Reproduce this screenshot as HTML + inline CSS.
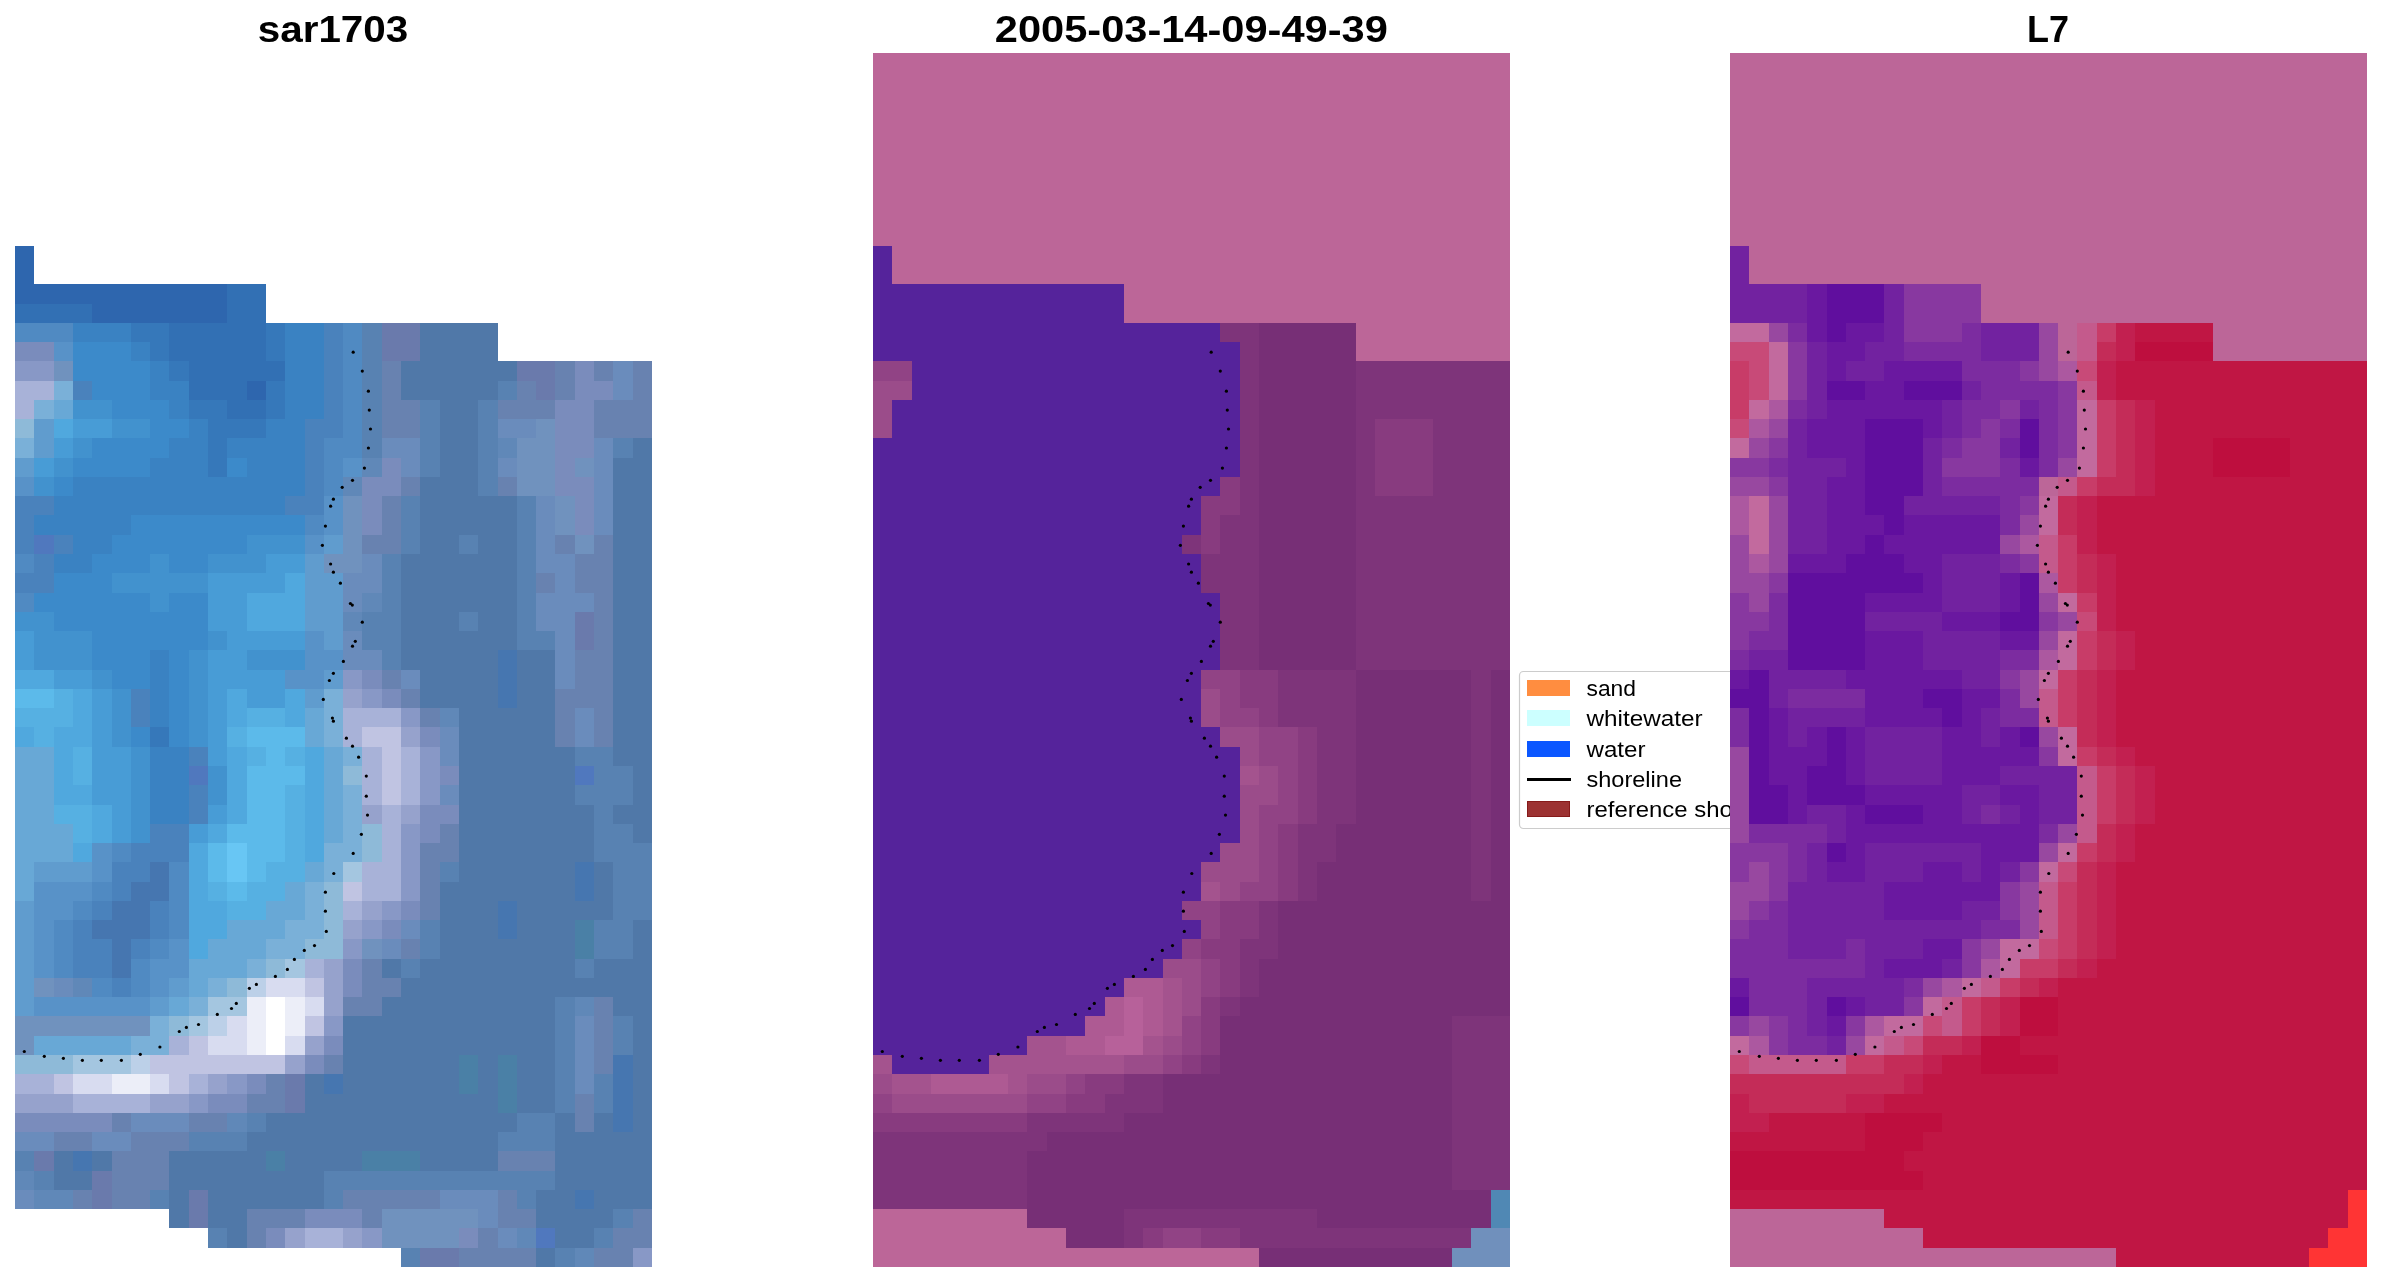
<!DOCTYPE html>
<html><head><meta charset="utf-8"><title>sar1703</title>
<style>
html,body{margin:0;padding:0;background:#fff;}
body{width:2381px;height:1283px;overflow:hidden;}
svg{display:block;}
.tt{font-family:"Liberation Sans",sans-serif;font-weight:bold;font-size:36px;fill:#000;}
.lg{font-family:"Liberation Sans",sans-serif;font-size:21.5px;fill:#000;}
</style></head>
<body>
<svg width="2381" height="1283" viewBox="0 0 2381 1283" shape-rendering="crispEdges">
<defs><filter id="ga" x="-5%" y="-30%" width="110%" height="160%"><feOffset dx="0" dy="0"/></filter></defs>
<rect width="2381" height="1283" fill="#fff"/>
<path fill="#2E66AE" d="M15 246h19v19h-19zM15 265h19v19h-19zM15 284h212v20h-212zM92 304h135v19h-135zM247 381h19v19h-19z"/>
<path fill="#3270B4" d="M227 284h39v20h-39zM15 304h77v19h-77zM227 304h39v19h-39zM169 323h97v19h-97zM169 342h97v19h-97zM189 361h96v20h-96zM189 381h58v19h-58zM227 400h39v19h-39z"/>
<path fill="#508AC2" d="M15 323h58v19h-58zM343 323h19v19h-19zM343 342h19v19h-19zM343 361h19v20h-19zM343 381h19v19h-19zM343 400h19v19h-19zM343 419h19v19h-19zM324 438h38v20h-38zM324 458h19v19h-19zM324 477h19v19h-19zM305 515h19v20h-19zM15 554h19v19h-19zM15 593h19v19h-19zM112 843h19v19h-19zM169 862h20v20h-20zM92 882h20v19h-20zM169 882h20v19h-20zM73 901h19v19h-19zM169 901h20v19h-20zM54 920h19v19h-19zM169 920h20v19h-20zM54 939h19v20h-19zM150 939h19v20h-19zM54 959h19v19h-19zM131 959h19v19h-19zM92 978h20v19h-20zM131 978h19v19h-19z"/>
<path fill="#3A82C2" d="M73 323h58v19h-58zM285 323h39v19h-39zM131 342h19v19h-19zM285 342h39v19h-39zM150 361h19v20h-19zM285 361h39v20h-39zM150 381h39v19h-39zM285 381h39v19h-39zM169 400h20v19h-20zM285 400h39v19h-39zM189 419h19v19h-19zM266 419h39v19h-39zM169 438h39v20h-39zM227 438h78v20h-78zM150 458h58v19h-58zM247 458h58v19h-58zM73 477h232v19h-232zM54 496h231v19h-231zM34 515h97v20h-97zM73 535h39v19h-39zM54 554h38v19h-38zM150 650h19v20h-19zM150 670h19v19h-19zM150 689h19v19h-19zM150 708h19v19h-19zM150 747h39v19h-39zM150 766h39v19h-39zM150 785h39v20h-39zM150 805h39v19h-39z"/>
<path fill="#3678BA" d="M131 323h38v19h-38zM266 323h19v19h-19zM150 342h19v19h-19zM266 342h19v19h-19zM169 361h20v20h-20zM266 381h19v19h-19zM189 400h38v19h-38zM266 400h19v19h-19zM208 419h58v19h-58zM208 438h19v20h-19zM208 458h19v19h-19zM150 727h19v20h-19z"/>
<path fill="#4A82BC" d="M324 323h19v19h-19zM324 342h19v19h-19zM324 361h19v20h-19zM73 381h19v19h-19zM324 381h19v19h-19zM324 400h19v19h-19zM305 419h38v19h-38zM305 438h19v20h-19zM305 458h19v19h-19zM305 477h19v19h-19zM15 496h39v19h-39zM285 496h39v19h-39zM15 515h19v20h-19zM15 535h19v19h-19zM54 535h19v19h-19zM34 554h20v19h-20zM15 573h39v20h-39zM131 689h19v19h-19zM131 708h19v19h-19zM189 747h19v19h-19zM189 785h19v20h-19zM189 805h19v19h-19zM150 824h39v19h-39zM131 843h58v19h-58zM112 862h38v20h-38zM112 882h19v19h-19zM92 901h20v19h-20zM150 901h19v19h-19zM73 920h19v19h-19zM150 920h19v19h-19zM73 939h39v20h-39zM131 939h19v20h-19zM73 959h39v19h-39zM112 978h19v19h-19z"/>
<path fill="#5882B2" d="M362 323h20v19h-20zM362 342h20v19h-20zM362 361h20v20h-20zM362 381h20v19h-20zM498 381h19v19h-19zM362 400h20v19h-20zM420 400h20v19h-20zM478 400h20v19h-20zM362 419h20v19h-20zM420 419h20v19h-20zM478 419h20v19h-20zM362 438h20v20h-20zM420 438h20v20h-20zM478 438h20v20h-20zM613 438h20v20h-20zM420 458h20v19h-20zM478 458h20v19h-20zM478 477h20v19h-20zM401 496h19v19h-19zM517 496h19v19h-19zM401 515h19v20h-19zM517 515h19v20h-19zM401 535h19v19h-19zM459 535h19v19h-19zM517 535h19v19h-19zM382 554h19v19h-19zM517 554h19v19h-19zM382 573h19v20h-19zM517 573h19v20h-19zM382 593h19v19h-19zM517 593h19v19h-19zM362 612h39v19h-39zM459 612h19v19h-19zM517 612h19v19h-19zM362 631h39v19h-39zM517 631h38v19h-38zM382 650h19v20h-19zM575 747h38v19h-38zM594 766h39v19h-39zM575 785h58v20h-58zM594 805h19v19h-19zM594 824h39v19h-39zM594 843h58v19h-58zM440 862h19v20h-19zM613 862h39v20h-39zM613 882h39v19h-39zM613 901h39v19h-39zM420 920h20v19h-20zM594 920h39v19h-39zM420 939h20v20h-20zM594 939h39v20h-39zM401 959h19v19h-19zM575 959h19v19h-19zM555 997h20v19h-20zM555 1016h20v20h-20zM613 1016h20v20h-20zM555 1036h20v19h-20zM613 1036h20v19h-20zM555 1055h20v19h-20zM555 1074h20v20h-20zM594 1074h19v20h-19zM555 1094h20v19h-20zM594 1094h19v19h-19zM247 1113h19v19h-19zM517 1113h38v19h-38zM189 1132h58v19h-58zM498 1132h57v19h-57zM15 1151h19v20h-19zM34 1171h20v19h-20zM324 1171h231v19h-231zM150 1190h19v19h-19zM324 1190h19v19h-19zM517 1190h19v19h-19zM613 1209h20v19h-20zM208 1228h19v20h-19zM594 1228h19v20h-19zM401 1248h19v19h-19zM555 1248h20v19h-20z"/>
<path fill="#6A7AAC" d="M382 323h38v19h-38zM382 342h38v19h-38zM517 361h38v20h-38zM536 381h19v19h-19zM575 612h19v19h-19zM575 631h19v19h-19zM285 1074h20v20h-20zM285 1094h20v19h-20zM34 1151h20v20h-20zM92 1171h20v19h-20zM92 1190h20v19h-20zM189 1190h19v19h-19zM189 1209h19v19h-19zM420 1248h39v19h-39z"/>
<path fill="#5078A8" d="M420 323h78v19h-78zM420 342h78v19h-78zM401 361h116v20h-116zM401 381h97v19h-97zM440 400h38v19h-38zM440 419h38v19h-38zM440 438h38v20h-38zM633 438h19v20h-19zM440 458h38v19h-38zM613 458h39v19h-39zM420 477h58v19h-58zM613 477h39v19h-39zM420 496h97v19h-97zM613 496h39v19h-39zM420 515h97v20h-97zM613 515h39v20h-39zM420 535h39v19h-39zM478 535h39v19h-39zM613 535h39v19h-39zM401 554h116v19h-116zM613 554h39v19h-39zM401 573h116v20h-116zM613 573h39v20h-39zM401 593h116v19h-116zM613 593h39v19h-39zM401 612h58v19h-58zM478 612h39v19h-39zM613 612h39v19h-39zM401 631h116v19h-116zM613 631h39v19h-39zM401 650h97v20h-97zM517 650h38v20h-38zM613 650h39v20h-39zM420 670h78v19h-78zM517 670h38v19h-38zM613 670h39v19h-39zM420 689h78v19h-78zM517 689h38v19h-38zM613 689h39v19h-39zM459 708h96v19h-96zM613 708h39v19h-39zM459 727h96v20h-96zM613 727h39v20h-39zM459 747h116v19h-116zM613 747h39v19h-39zM459 766h116v19h-116zM633 766h19v19h-19zM459 785h116v20h-116zM633 785h19v20h-19zM459 805h135v19h-135zM613 805h39v19h-39zM459 824h135v19h-135zM633 824h19v19h-19zM459 843h135v19h-135zM459 862h116v20h-116zM594 862h19v20h-19zM440 882h135v19h-135zM594 882h19v19h-19zM440 901h58v19h-58zM517 901h96v19h-96zM440 920h58v19h-58zM517 920h58v19h-58zM633 920h19v19h-19zM440 939h135v20h-135zM633 939h19v20h-19zM382 959h19v19h-19zM420 959h155v19h-155zM594 959h58v19h-58zM401 978h251v19h-251zM382 997h173v19h-173zM613 997h39v19h-39zM343 1016h212v20h-212zM633 1016h19v20h-19zM343 1036h212v19h-212zM633 1036h19v19h-19zM343 1055h116v19h-116zM478 1055h20v19h-20zM517 1055h38v19h-38zM633 1055h19v19h-19zM305 1074h19v20h-19zM343 1074h116v20h-116zM478 1074h20v20h-20zM517 1074h38v20h-38zM633 1074h19v20h-19zM305 1094h193v19h-193zM517 1094h38v19h-38zM633 1094h19v19h-19zM266 1113h251v19h-251zM555 1113h20v19h-20zM594 1113h19v19h-19zM633 1113h19v19h-19zM247 1132h251v19h-251zM555 1132h97v19h-97zM54 1151h19v20h-19zM92 1151h20v20h-20zM169 1151h97v20h-97zM285 1151h77v20h-77zM420 1151h78v20h-78zM555 1151h97v20h-97zM54 1171h38v19h-38zM169 1171h155v19h-155zM555 1171h97v19h-97zM169 1190h20v19h-20zM208 1190h116v19h-116zM536 1190h39v19h-39zM594 1190h58v19h-58zM169 1209h20v19h-20zM208 1209h39v19h-39zM536 1209h77v19h-77zM227 1228h20v20h-20zM555 1228h39v20h-39zM536 1248h19v19h-19z"/>
<path fill="#7A8CBC" d="M15 342h39v19h-39zM575 361h19v20h-19zM575 381h38v19h-38zM555 400h39v19h-39zM555 419h39v19h-39zM555 438h39v20h-39zM382 458h19v19h-19zM555 458h20v19h-20zM362 477h39v19h-39zM555 477h39v19h-39zM362 496h20v19h-20zM575 496h19v19h-19zM362 515h20v20h-20zM575 515h19v20h-19zM362 670h20v19h-20zM382 689h19v19h-19zM420 727h20v20h-20zM440 766h19v19h-19zM420 805h39v19h-39zM420 824h20v19h-20zM401 901h19v19h-19zM382 920h19v19h-19zM343 959h19v19h-19zM343 978h19v19h-19zM324 1036h19v19h-19zM305 1055h19v19h-19zM247 1074h19v20h-19zM208 1094h39v19h-39zM15 1113h97v19h-97zM305 1209h57v19h-57zM266 1228h19v20h-19zM459 1228h19v20h-19z"/>
<path fill="#5892C8" d="M54 342h19v19h-19zM343 458h19v19h-19zM15 477h19v19h-19zM324 496h19v19h-19zM324 515h19v20h-19zM305 535h19v19h-19zM305 631h19v19h-19zM305 650h38v20h-38zM285 670h39v19h-39zM92 843h20v19h-20zM92 862h20v20h-20zM34 882h58v19h-58zM34 901h39v19h-39zM34 920h20v19h-20zM34 939h20v20h-20zM169 939h20v20h-20zM34 959h20v19h-20zM150 959h39v19h-39zM150 978h19v19h-19zM34 997h116v19h-116z"/>
<path fill="#3C8ACA" d="M73 342h58v19h-58zM73 361h77v20h-77zM92 381h58v19h-58zM112 400h57v19h-57zM150 419h39v19h-39zM92 438h77v20h-77zM73 458h77v19h-77zM227 458h20v19h-20zM54 477h19v19h-19zM131 515h174v20h-174zM112 535h135v19h-135zM92 554h58v19h-58zM169 554h39v19h-39zM54 573h58v20h-58zM34 593h116v19h-116zM169 593h39v19h-39zM54 612h154v19h-154zM92 631h116v19h-116zM92 650h58v20h-58zM169 650h20v20h-20zM112 670h38v19h-38zM169 670h20v19h-20zM169 689h20v19h-20zM169 708h20v19h-20zM131 727h19v20h-19zM169 727h20v20h-20z"/>
<path fill="#8898C6" d="M15 361h39v20h-39zM343 670h19v19h-19zM362 689h20v19h-20zM401 708h19v19h-19zM420 747h20v19h-20zM420 766h20v19h-20zM420 785h20v20h-20zM401 824h19v19h-19zM401 843h19v19h-19zM401 862h19v20h-19zM401 882h19v19h-19zM382 901h19v19h-19zM362 920h20v19h-20zM343 939h19v20h-19zM324 1016h19v20h-19zM227 1074h20v20h-20zM189 1094h19v19h-19zM362 1228h20v20h-20zM633 1248h19v19h-19z"/>
<path fill="#7092BE" d="M54 361h19v20h-19zM536 419h19v19h-19zM517 438h38v20h-38zM517 458h38v19h-38zM575 458h19v19h-19zM517 477h38v19h-38zM343 496h19v19h-19zM555 496h20v19h-20zM343 515h19v20h-19zM555 515h20v20h-20zM343 535h19v19h-19zM575 535h19v19h-19zM324 554h38v19h-38zM362 939h20v20h-20zM34 978h20v19h-20zM15 1016h135v20h-135zM15 1036h19v19h-19zM382 1209h96v19h-96zM382 1228h77v20h-77z"/>
<path fill="#6882B0" d="M382 361h19v20h-19zM555 361h20v20h-20zM594 361h19v20h-19zM633 361h19v20h-19zM382 381h19v19h-19zM517 381h19v19h-19zM555 381h20v19h-20zM633 381h19v19h-19zM382 400h38v19h-38zM498 400h57v19h-57zM594 400h58v19h-58zM382 419h38v19h-38zM594 419h58v19h-58zM401 477h19v19h-19zM498 477h19v19h-19zM382 496h19v19h-19zM382 515h19v20h-19zM362 535h39v19h-39zM555 535h20v19h-20zM594 535h19v19h-19zM575 554h38v19h-38zM536 573h19v20h-19zM575 573h38v20h-38zM594 593h19v19h-19zM594 612h19v19h-19zM594 631h19v19h-19zM575 650h38v20h-38zM382 670h19v19h-19zM575 670h38v19h-38zM401 689h19v19h-19zM555 689h58v19h-58zM420 708h20v19h-20zM555 708h20v19h-20zM594 708h19v19h-19zM555 727h20v20h-20zM594 727h19v20h-19zM440 824h19v19h-19zM420 843h39v19h-39zM420 862h20v20h-20zM420 882h20v19h-20zM420 901h20v19h-20zM401 939h19v20h-19zM362 959h20v19h-20zM362 978h39v19h-39zM343 997h39v19h-39zM594 997h19v19h-19zM594 1016h19v20h-19zM594 1036h19v19h-19zM324 1055h19v19h-19zM594 1055h19v19h-19zM266 1074h19v20h-19zM247 1094h38v19h-38zM575 1094h19v19h-19zM112 1113h19v19h-19zM189 1113h38v19h-38zM575 1113h19v19h-19zM54 1132h38v19h-38zM131 1132h58v19h-58zM112 1151h57v20h-57zM498 1151h57v20h-57zM112 1171h57v19h-57zM73 1190h19v19h-19zM112 1190h38v19h-38zM343 1190h97v19h-97zM498 1190h19v19h-19zM247 1209h58v19h-58zM362 1209h20v19h-20zM498 1209h38v19h-38zM633 1209h19v19h-19zM247 1228h19v20h-19zM478 1228h20v20h-20zM613 1228h39v20h-39zM459 1248h77v19h-77zM594 1248h39v19h-39z"/>
<path fill="#6A8CBC" d="M613 361h20v20h-20zM613 381h20v19h-20zM498 419h38v19h-38zM382 438h38v20h-38zM594 438h19v20h-19zM401 458h19v19h-19zM498 458h19v19h-19zM594 458h19v19h-19zM594 477h19v19h-19zM536 496h19v19h-19zM594 496h19v19h-19zM536 515h19v20h-19zM594 515h19v20h-19zM536 535h19v19h-19zM362 554h20v19h-20zM536 554h39v19h-39zM343 573h39v20h-39zM555 573h20v20h-20zM343 593h19v19h-19zM536 593h58v19h-58zM536 612h39v19h-39zM343 631h19v19h-19zM555 631h20v19h-20zM343 650h39v20h-39zM555 650h20v20h-20zM401 670h19v19h-19zM555 670h20v19h-20zM575 708h19v19h-19zM440 727h19v20h-19zM575 727h19v20h-19zM440 747h19v19h-19zM440 785h19v20h-19zM401 920h19v19h-19zM382 939h19v20h-19zM54 978h19v19h-19zM575 1016h19v20h-19zM575 1036h19v19h-19zM575 1055h19v19h-19zM575 1074h19v20h-19zM131 1113h58v19h-58zM15 1132h39v19h-39zM92 1132h39v19h-39zM15 1190h19v19h-19zM440 1190h58v19h-58zM478 1209h20v19h-20zM498 1228h19v20h-19z"/>
<path fill="#A8B2D8" d="M15 381h39v19h-39zM15 400h19v19h-19zM343 708h58v19h-58zM343 727h19v20h-19zM362 747h20v19h-20zM401 747h19v19h-19zM362 766h20v19h-20zM401 766h19v19h-19zM362 785h20v20h-20zM401 785h19v20h-19zM382 805h19v19h-19zM382 824h19v19h-19zM382 843h19v19h-19zM362 862h39v20h-39zM362 882h39v19h-39zM343 901h19v19h-19zM305 959h19v19h-19zM169 1036h20v19h-20zM15 1074h39v20h-39zM189 1074h19v20h-19zM73 1094h77v19h-77zM305 1228h38v20h-38z"/>
<path fill="#7AB0D8" d="M54 381h19v19h-19zM34 400h20v19h-20zM15 438h19v20h-19zM324 689h19v19h-19zM324 708h19v19h-19zM324 727h19v20h-19zM343 747h19v19h-19zM343 785h19v20h-19zM343 805h19v19h-19zM343 824h19v19h-19zM324 843h38v19h-38zM324 862h19v20h-19zM305 882h19v19h-19zM305 901h19v19h-19zM285 920h39v19h-39zM266 939h39v20h-39zM247 959h19v19h-19zM208 978h19v19h-19zM189 997h19v19h-19zM150 1016h19v20h-19zM131 1036h38v19h-38z"/>
<path fill="#68A8D6" d="M54 400h19v19h-19zM305 708h19v19h-19zM305 727h19v20h-19zM15 747h39v19h-39zM324 747h19v19h-19zM15 766h39v19h-39zM324 766h19v19h-19zM15 785h39v20h-39zM324 785h19v20h-19zM15 805h39v19h-39zM324 805h19v19h-19zM15 824h58v19h-58zM324 824h19v19h-19zM15 843h58v19h-58zM15 862h19v20h-19zM305 862h19v20h-19zM15 882h19v19h-19zM285 882h20v19h-20zM266 901h39v19h-39zM227 920h58v19h-58zM208 939h58v20h-58zM189 959h58v19h-58zM189 978h19v19h-19zM169 997h20v19h-20zM34 1036h97v19h-97z"/>
<path fill="#4292CE" d="M73 400h39v19h-39zM112 419h38v19h-38zM73 438h19v20h-19zM54 458h19v19h-19zM34 477h20v19h-20zM247 535h58v19h-58zM150 554h19v19h-19zM208 554h58v19h-58zM112 573h96v20h-96zM150 593h19v19h-19zM15 612h39v19h-39zM34 631h58v19h-58zM208 631h19v19h-19zM34 650h58v20h-58zM189 650h19v20h-19zM247 650h58v20h-58zM92 670h20v19h-20zM189 670h19v19h-19zM112 689h19v19h-19zM189 689h19v19h-19zM112 708h19v19h-19zM189 708h19v19h-19zM112 727h19v20h-19zM189 727h19v20h-19zM131 747h19v19h-19zM131 766h19v19h-19zM208 766h19v19h-19zM131 785h19v20h-19zM208 785h19v20h-19zM131 805h19v19h-19zM131 824h19v19h-19z"/>
<path fill="#8EBAD8" d="M15 419h19v19h-19zM343 766h19v19h-19zM362 824h20v19h-20zM362 843h20v19h-20zM324 882h19v19h-19zM324 901h19v19h-19zM324 920h19v19h-19zM305 939h38v20h-38zM266 959h19v19h-19zM227 978h20v19h-20zM169 1016h20v20h-20zM15 1055h58v19h-58z"/>
<path fill="#609CCE" d="M34 419h20v19h-20zM34 438h20v20h-20zM15 458h19v19h-19zM324 535h19v19h-19zM305 554h19v19h-19zM305 573h38v20h-38zM305 593h38v19h-38zM305 612h38v19h-38zM324 631h19v19h-19zM324 670h19v19h-19zM305 689h19v19h-19zM34 862h58v20h-58zM15 901h19v19h-19zM15 920h19v19h-19zM15 939h19v20h-19zM15 959h19v19h-19zM15 978h19v19h-19zM169 978h20v19h-20zM15 997h19v19h-19zM150 997h19v19h-19z"/>
<path fill="#50A8DE" d="M54 419h19v19h-19zM285 573h20v20h-20zM247 593h58v19h-58zM247 612h58v19h-58zM15 670h39v19h-39zM73 689h19v19h-19zM227 689h20v19h-20zM285 689h20v19h-20zM73 708h19v19h-19zM227 708h20v19h-20zM285 708h20v19h-20zM15 727h19v20h-19zM54 727h38v20h-38zM54 747h19v19h-19zM227 747h20v19h-20zM305 747h19v19h-19zM54 766h19v19h-19zM227 766h20v19h-20zM305 766h19v19h-19zM54 785h38v20h-38zM227 785h20v20h-20zM305 785h19v20h-19zM92 805h20v19h-20zM227 805h20v19h-20zM305 805h19v19h-19zM92 824h20v19h-20zM208 824h19v19h-19zM305 824h19v19h-19zM73 843h19v19h-19zM189 843h19v19h-19zM305 843h19v19h-19zM189 862h19v20h-19zM189 882h19v19h-19zM189 901h38v19h-38zM189 920h38v19h-38zM189 939h19v20h-19z"/>
<path fill="#489CD6" d="M73 419h39v19h-39zM54 438h19v20h-19zM34 458h20v19h-20zM266 554h39v19h-39zM208 573h77v20h-77zM208 593h39v19h-39zM208 612h39v19h-39zM15 631h19v19h-19zM227 631h78v19h-78zM15 650h19v20h-19zM208 650h39v20h-39zM54 670h38v19h-38zM208 670h77v19h-77zM92 689h20v19h-20zM208 689h19v19h-19zM247 689h38v19h-38zM92 708h20v19h-20zM208 708h19v19h-19zM92 727h20v20h-20zM208 727h19v20h-19zM92 747h39v19h-39zM208 747h19v19h-19zM92 766h39v19h-39zM92 785h39v20h-39zM112 805h19v19h-19zM208 805h19v19h-19zM112 824h19v19h-19zM189 824h19v19h-19z"/>
<path fill="#6088B8" d="M498 438h19v20h-19zM362 458h20v19h-20zM343 477h19v19h-19zM362 593h20v19h-20zM343 612h19v19h-19zM440 708h19v19h-19zM73 978h19v19h-19zM575 997h19v19h-19zM227 1113h20v19h-20zM15 1171h19v19h-19zM34 1190h39v19h-39zM517 1228h19v20h-19zM575 1248h19v19h-19z"/>
<path fill="#5078BE" d="M34 535h20v19h-20zM189 766h19v19h-19zM575 766h19v19h-19zM536 1228h19v20h-19z"/>
<path fill="#4676B0" d="M498 650h19v20h-19zM498 670h19v19h-19zM498 689h19v19h-19zM150 862h19v20h-19zM575 862h19v20h-19zM131 882h38v19h-38zM575 882h19v19h-19zM112 901h38v19h-38zM498 901h19v19h-19zM92 920h58v19h-58zM498 920h19v19h-19zM112 939h19v20h-19zM112 959h19v19h-19zM613 1055h20v19h-20zM324 1074h19v20h-19zM613 1074h20v20h-20zM613 1094h20v19h-20zM613 1113h20v19h-20zM73 1151h19v20h-19zM575 1190h19v19h-19z"/>
<path fill="#5CBAEA" d="M15 689h39v19h-39zM247 727h58v20h-58zM266 747h19v19h-19zM247 766h58v19h-58zM247 785h38v20h-38zM247 805h38v19h-38zM227 824h58v19h-58zM208 843h19v19h-19zM247 843h38v19h-38zM208 862h19v20h-19zM247 862h19v20h-19zM227 882h20v19h-20z"/>
<path fill="#56B0E2" d="M54 689h19v19h-19zM15 708h58v19h-58zM247 708h38v19h-38zM34 727h20v20h-20zM227 727h20v20h-20zM73 747h19v19h-19zM247 747h19v19h-19zM285 747h20v19h-20zM73 766h19v19h-19zM285 785h20v20h-20zM54 805h38v19h-38zM285 805h20v19h-20zM73 824h19v19h-19zM285 824h20v19h-20zM285 843h20v19h-20zM266 862h39v20h-39zM208 882h19v19h-19zM247 882h38v19h-38zM227 901h39v19h-39z"/>
<path fill="#96A2CC" d="M343 689h19v19h-19zM401 727h19v20h-19zM362 805h20v19h-20zM401 805h19v19h-19zM362 901h20v19h-20zM343 920h19v19h-19zM324 959h19v19h-19zM324 978h19v19h-19zM324 997h19v19h-19zM305 1036h19v19h-19zM285 1055h20v19h-20zM208 1074h19v20h-19zM15 1094h58v19h-58zM150 1094h39v19h-39zM285 1228h20v20h-20zM343 1228h19v20h-19z"/>
<path fill="#C0C4E2" d="M362 727h39v20h-39zM382 747h19v19h-19zM382 766h19v19h-19zM382 785h19v20h-19zM343 882h19v19h-19zM305 978h19v19h-19zM305 1016h19v20h-19zM189 1036h19v19h-19zM150 1055h135v19h-135zM54 1074h19v20h-19zM169 1074h20v20h-20z"/>
<path fill="#68C6F4" d="M227 843h20v19h-20zM227 862h20v20h-20z"/>
<path fill="#A4C6E0" d="M343 862h19v20h-19zM285 959h20v19h-20zM208 997h39v19h-39zM189 1016h19v20h-19zM73 1055h58v19h-58z"/>
<path fill="#4A80A6" d="M575 920h19v19h-19zM575 939h19v20h-19zM459 1055h19v19h-19zM498 1055h19v19h-19zM459 1074h19v20h-19zM498 1074h19v20h-19zM498 1094h19v19h-19zM266 1151h19v20h-19zM362 1151h58v20h-58z"/>
<path fill="#BCD0E8" d="M247 978h19v19h-19zM208 1016h19v20h-19zM131 1055h19v19h-19z"/>
<path fill="#D8DCF0" d="M266 978h39v19h-39zM305 997h19v19h-19zM227 1016h20v20h-20zM208 1036h39v19h-39zM285 1036h20v19h-20zM73 1074h39v20h-39zM150 1074h19v20h-19z"/>
<path fill="#ECEEF8" d="M247 997h19v19h-19zM285 997h20v19h-20zM247 1016h19v20h-19zM285 1016h20v20h-20zM247 1036h19v19h-19zM112 1074h38v20h-38z"/>
<g fill="#000" shape-rendering="auto"><circle cx="353.2" cy="352.2" r="1.6"/><circle cx="362.3" cy="371.1" r="1.6"/><circle cx="368.4" cy="391.2" r="1.6"/><circle cx="369.3" cy="410.1" r="1.6"/><circle cx="370.5" cy="429.0" r="1.6"/><circle cx="368.4" cy="448.0" r="1.6"/><circle cx="364.4" cy="468.1" r="1.6"/><circle cx="352.5" cy="480.3" r="1.6"/><circle cx="342.2" cy="487.3" r="1.6"/><circle cx="333.4" cy="499.2" r="1.6"/><circle cx="330.6" cy="506.2" r="1.6"/><circle cx="325.4" cy="526.1" r="1.6"/><circle cx="322.4" cy="545.3" r="1.6"/><circle cx="330.6" cy="564.0" r="1.6"/><circle cx="333.4" cy="572.2" r="1.6"/><circle cx="340.4" cy="583.2" r="1.6"/><circle cx="350.4" cy="603.5" r="1.6"/><circle cx="352.3" cy="605.1" r="1.6"/><circle cx="362.3" cy="622.2" r="1.6"/><circle cx="355.3" cy="641.3" r="1.6"/><circle cx="352.5" cy="646.2" r="1.6"/><circle cx="343.4" cy="661.4" r="1.6"/><circle cx="333.4" cy="673.3" r="1.6"/><circle cx="329.4" cy="680.5" r="1.6"/><circle cx="323.3" cy="699.4" r="1.6"/><circle cx="332.4" cy="718.1" r="1.6"/><circle cx="333.4" cy="721.2" r="1.6"/><circle cx="346.4" cy="738.2" r="1.6"/><circle cx="352.5" cy="746.2" r="1.6"/><circle cx="358.6" cy="757.2" r="1.6"/><circle cx="366.3" cy="776.1" r="1.6"/><circle cx="366.3" cy="796.2" r="1.6"/><circle cx="367.5" cy="815.1" r="1.6"/><circle cx="361.4" cy="834.3" r="1.6"/><circle cx="353.2" cy="853.4" r="1.6"/><circle cx="333.8" cy="873.5" r="1.6"/><circle cx="325.4" cy="892.2" r="1.6"/><circle cx="325.4" cy="911.2" r="1.6"/><circle cx="326.3" cy="931.4" r="1.6"/><circle cx="314.5" cy="945.6" r="1.6"/><circle cx="304.3" cy="950.4" r="1.6"/><circle cx="294.4" cy="959.4" r="1.6"/><circle cx="287.4" cy="969.4" r="1.6"/><circle cx="275.4" cy="976.4" r="1.6"/><circle cx="256.4" cy="984.4" r="1.6"/><circle cx="249.4" cy="988.3" r="1.6"/><circle cx="236.3" cy="1003.4" r="1.6"/><circle cx="231.5" cy="1008.5" r="1.6"/><circle cx="217.3" cy="1014.4" r="1.6"/><circle cx="198.5" cy="1024.5" r="1.6"/><circle cx="186.4" cy="1027.4" r="1.6"/><circle cx="179.3" cy="1031.5" r="1.6"/><circle cx="159.9" cy="1047.0" r="1.6"/><circle cx="140.3" cy="1054.3" r="1.6"/><circle cx="121.4" cy="1060.3" r="1.6"/><circle cx="101.3" cy="1060.3" r="1.6"/><circle cx="82.4" cy="1060.3" r="1.6"/><circle cx="63.4" cy="1058.3" r="1.6"/><circle cx="44.3" cy="1056.3" r="1.6"/><circle cx="24.3" cy="1051.5" r="1.6"/></g>
<path fill="#BC6698" d="M873 53h637v19h-637zM873 72h637v20h-637zM873 92h637v19h-637zM873 111h637v19h-637zM873 130h637v19h-637zM873 149h637v20h-637zM873 169h637v19h-637zM873 188h637v19h-637zM873 207h637v19h-637zM873 226h637v20h-637zM892 246h618v19h-618zM892 265h618v19h-618zM1124 284h386v20h-386zM1124 304h386v19h-386zM1356 323h154v19h-154zM1356 342h154v19h-154zM873 1209h154v19h-154zM873 1228h193v20h-193zM873 1248h386v19h-386z"/>
<path fill="#55239B" d="M873 246h19v19h-19zM873 265h19v19h-19zM873 284h251v20h-251zM873 304h251v19h-251zM873 323h347v19h-347zM873 342h367v19h-367zM912 361h328v20h-328zM912 381h328v19h-328zM892 400h348v19h-348zM892 419h348v19h-348zM873 438h367v20h-367zM873 458h367v19h-367zM873 477h347v19h-347zM873 496h328v19h-328zM873 515h328v20h-328zM873 535h309v19h-309zM873 554h328v19h-328zM873 573h328v20h-328zM873 593h347v19h-347zM873 612h347v19h-347zM873 631h347v19h-347zM873 650h347v20h-347zM873 670h328v19h-328zM873 689h328v19h-328zM873 708h328v19h-328zM873 727h347v20h-347zM873 747h367v19h-367zM873 766h367v19h-367zM873 785h367v20h-367zM873 805h367v19h-367zM873 824h367v19h-367zM873 843h347v19h-347zM873 862h328v20h-328zM873 882h328v19h-328zM873 901h309v19h-309zM873 920h328v19h-328zM873 939h309v20h-309zM873 959h290v19h-290zM873 978h251v19h-251zM873 997h232v19h-232zM873 1016h212v20h-212zM873 1036h154v19h-154zM892 1055h97v19h-97z"/>
<path fill="#7E347A" d="M1220 323h39v19h-39zM1240 342h19v19h-19zM1240 361h19v20h-19zM1356 361h154v20h-154zM1240 381h19v19h-19zM1356 381h154v19h-154zM1240 400h19v19h-19zM1356 400h154v19h-154zM1240 419h19v19h-19zM1356 419h19v19h-19zM1433 419h77v19h-77zM1240 438h19v20h-19zM1356 438h19v20h-19zM1433 438h77v20h-77zM1240 458h19v19h-19zM1356 458h19v19h-19zM1433 458h77v19h-77zM1240 477h19v19h-19zM1356 477h19v19h-19zM1433 477h77v19h-77zM1240 496h19v19h-19zM1356 496h154v19h-154zM1220 515h39v20h-39zM1356 515h154v20h-154zM1182 535h19v19h-19zM1220 535h39v19h-39zM1356 535h154v19h-154zM1201 554h58v19h-58zM1356 554h154v19h-154zM1201 573h58v20h-58zM1356 573h154v20h-154zM1220 593h39v19h-39zM1356 593h154v19h-154zM1220 612h39v19h-39zM1356 612h154v19h-154zM1220 631h39v19h-39zM1356 631h154v19h-154zM1220 650h39v20h-39zM1356 650h154v20h-154zM1278 670h78v19h-78zM1471 670h20v19h-20zM1278 689h78v19h-78zM1471 689h20v19h-20zM1278 708h78v19h-78zM1471 708h20v19h-20zM1317 727h39v20h-39zM1471 727h20v20h-20zM1317 747h39v19h-39zM1471 747h20v19h-20zM1317 766h39v19h-39zM1471 766h20v19h-20zM1317 785h39v20h-39zM1471 785h20v20h-20zM1317 805h39v19h-39zM1471 805h20v19h-20zM1298 824h38v19h-38zM1471 824h20v19h-20zM1298 843h38v19h-38zM1471 843h20v19h-20zM1298 862h19v20h-19zM1471 862h20v20h-20zM1298 882h19v19h-19zM1471 882h20v19h-20zM1259 901h19v19h-19zM1259 920h19v19h-19zM1240 939h38v20h-38zM1240 959h19v19h-19zM1240 978h19v19h-19zM1220 997h20v19h-20zM1452 1016h58v20h-58zM1452 1036h58v19h-58zM1201 1055h19v19h-19zM1452 1055h58v19h-58zM1124 1074h39v20h-39zM1452 1074h58v20h-58zM1105 1094h58v19h-58zM1452 1094h58v19h-58zM1027 1113h97v19h-97zM1452 1113h58v19h-58zM873 1132h174v19h-174zM1452 1132h58v19h-58zM873 1151h154v20h-154zM1452 1151h58v20h-58zM873 1171h154v19h-154zM1452 1171h58v19h-58zM873 1190h154v19h-154zM1124 1209h193v19h-193zM1124 1228h19v20h-19zM1240 1228h231v20h-231z"/>
<path fill="#772F76" d="M1259 323h97v19h-97zM1259 342h97v19h-97zM1259 361h97v20h-97zM1259 381h97v19h-97zM1259 400h97v19h-97zM1259 419h97v19h-97zM1259 438h97v20h-97zM1259 458h97v19h-97zM1259 477h97v19h-97zM1259 496h97v19h-97zM1259 515h97v20h-97zM1259 535h97v19h-97zM1259 554h97v19h-97zM1259 573h97v20h-97zM1259 593h97v19h-97zM1259 612h97v19h-97zM1259 631h97v19h-97zM1259 650h97v20h-97zM1356 670h115v19h-115zM1491 670h19v19h-19zM1356 689h115v19h-115zM1491 689h19v19h-19zM1356 708h115v19h-115zM1491 708h19v19h-19zM1356 727h115v20h-115zM1491 727h19v20h-19zM1356 747h115v19h-115zM1491 747h19v19h-19zM1356 766h115v19h-115zM1491 766h19v19h-19zM1356 785h115v20h-115zM1491 785h19v20h-19zM1356 805h115v19h-115zM1491 805h19v19h-19zM1336 824h135v19h-135zM1491 824h19v19h-19zM1336 843h135v19h-135zM1491 843h19v19h-19zM1317 862h154v20h-154zM1491 862h19v20h-19zM1317 882h154v19h-154zM1491 882h19v19h-19zM1278 901h232v19h-232zM1278 920h232v19h-232zM1278 939h232v20h-232zM1259 959h251v19h-251zM1259 978h251v19h-251zM1240 997h270v19h-270zM1220 1016h232v20h-232zM1220 1036h232v19h-232zM1220 1055h232v19h-232zM1163 1074h289v20h-289zM1163 1094h289v19h-289zM1124 1113h328v19h-328zM1047 1132h405v19h-405zM1027 1151h425v20h-425zM1027 1171h425v19h-425zM1027 1190h464v19h-464zM1027 1209h97v19h-97zM1317 1209h174v19h-174zM1066 1228h58v20h-58zM1259 1248h193v19h-193z"/>
<path fill="#914385" d="M873 361h39v20h-39zM1201 670h39v19h-39zM1220 689h20v19h-20zM1220 708h39v19h-39zM1259 727h39v20h-39zM1259 747h39v19h-39zM1278 766h20v19h-20zM1278 785h20v20h-20zM1259 805h39v19h-39zM1259 824h19v19h-19zM1259 843h19v19h-19zM1259 862h19v20h-19zM1240 882h38v19h-38zM1182 901h38v19h-38zM1201 920h19v19h-19zM1182 939h19v20h-19zM1201 959h19v19h-19zM1201 978h19v19h-19zM1182 1016h19v20h-19zM1182 1036h19v19h-19zM1163 1055h19v19h-19zM1066 1074h19v20h-19zM873 1094h19v19h-19zM1027 1094h39v19h-39zM1163 1228h38v20h-38z"/>
<path fill="#9B4C8A" d="M873 381h39v19h-39zM873 400h19v19h-19zM873 419h19v19h-19zM1201 689h19v19h-19zM1201 708h19v19h-19zM1220 727h39v20h-39zM1240 747h19v19h-19zM1259 766h19v19h-19zM1240 785h38v20h-38zM1240 805h19v19h-19zM1240 824h19v19h-19zM1220 843h39v19h-39zM1201 862h58v20h-58zM1220 882h20v19h-20zM1163 959h38v19h-38zM1182 978h19v19h-19zM1182 997h19v19h-19zM1163 1036h19v19h-19zM1124 1055h39v19h-39zM873 1074h19v20h-19zM1027 1074h39v20h-39zM892 1094h135v19h-135z"/>
<path fill="#883B7F" d="M1375 419h58v19h-58zM1375 438h58v20h-58zM1375 458h58v19h-58zM1220 477h20v19h-20zM1375 477h58v19h-58zM1201 496h39v19h-39zM1201 515h19v20h-19zM1201 535h19v19h-19zM1240 670h38v19h-38zM1240 689h38v19h-38zM1259 708h19v19h-19zM1298 727h19v20h-19zM1298 747h19v19h-19zM1298 766h19v19h-19zM1298 785h19v20h-19zM1298 805h19v19h-19zM1278 824h20v19h-20zM1278 843h20v19h-20zM1278 862h20v20h-20zM1278 882h20v19h-20zM1220 901h39v19h-39zM1220 920h39v19h-39zM1201 939h39v20h-39zM1220 959h20v19h-20zM1220 978h20v19h-20zM1201 997h19v19h-19zM1201 1016h19v20h-19zM1201 1036h19v19h-19zM1182 1055h19v19h-19zM1085 1074h39v20h-39zM1066 1094h39v19h-39zM873 1113h154v19h-154zM1143 1228h20v20h-20zM1201 1228h39v20h-39z"/>
<path fill="#A4538E" d="M1240 766h19v19h-19zM1201 882h19v19h-19zM1163 978h19v19h-19zM1163 997h19v19h-19zM1163 1016h19v20h-19zM1027 1036h39v19h-39zM1143 1036h20v19h-20zM873 1055h19v19h-19zM989 1055h135v19h-135zM892 1074h39v20h-39zM1008 1074h19v20h-19z"/>
<path fill="#AE5A93" d="M1124 978h39v19h-39zM1105 997h19v19h-19zM1143 997h20v19h-20zM1085 1016h39v20h-39zM1143 1016h20v20h-20zM1066 1036h39v19h-39zM931 1074h77v20h-77z"/>
<path fill="#B7619A" d="M1124 997h19v19h-19zM1124 1016h19v20h-19zM1105 1036h38v19h-38z"/>
<path fill="#5088B4" d="M1491 1190h19v19h-19zM1491 1209h19v19h-19z"/>
<path fill="#7090BC" d="M1471 1228h39v20h-39zM1452 1248h58v19h-58z"/>
<g fill="#000" shape-rendering="auto"><circle cx="1211.2" cy="352.2" r="1.6"/><circle cx="1220.3" cy="371.1" r="1.6"/><circle cx="1226.4" cy="391.2" r="1.6"/><circle cx="1227.3" cy="410.1" r="1.6"/><circle cx="1228.5" cy="429.0" r="1.6"/><circle cx="1226.4" cy="448.0" r="1.6"/><circle cx="1222.4" cy="468.1" r="1.6"/><circle cx="1210.5" cy="480.3" r="1.6"/><circle cx="1200.2" cy="487.3" r="1.6"/><circle cx="1191.4" cy="499.2" r="1.6"/><circle cx="1188.6" cy="506.2" r="1.6"/><circle cx="1183.4" cy="526.1" r="1.6"/><circle cx="1180.4" cy="545.3" r="1.6"/><circle cx="1188.6" cy="564.0" r="1.6"/><circle cx="1191.4" cy="572.2" r="1.6"/><circle cx="1198.4" cy="583.2" r="1.6"/><circle cx="1208.4" cy="603.5" r="1.6"/><circle cx="1210.3" cy="605.1" r="1.6"/><circle cx="1220.3" cy="622.2" r="1.6"/><circle cx="1213.3" cy="641.3" r="1.6"/><circle cx="1210.5" cy="646.2" r="1.6"/><circle cx="1201.4" cy="661.4" r="1.6"/><circle cx="1191.4" cy="673.3" r="1.6"/><circle cx="1187.4" cy="680.5" r="1.6"/><circle cx="1181.3" cy="699.4" r="1.6"/><circle cx="1190.4" cy="718.1" r="1.6"/><circle cx="1191.4" cy="721.2" r="1.6"/><circle cx="1204.4" cy="738.2" r="1.6"/><circle cx="1210.5" cy="746.2" r="1.6"/><circle cx="1216.6" cy="757.2" r="1.6"/><circle cx="1224.3" cy="776.1" r="1.6"/><circle cx="1224.3" cy="796.2" r="1.6"/><circle cx="1225.5" cy="815.1" r="1.6"/><circle cx="1219.4" cy="834.3" r="1.6"/><circle cx="1211.2" cy="853.4" r="1.6"/><circle cx="1191.8" cy="873.5" r="1.6"/><circle cx="1183.4" cy="892.2" r="1.6"/><circle cx="1183.4" cy="911.2" r="1.6"/><circle cx="1184.3" cy="931.4" r="1.6"/><circle cx="1172.5" cy="945.6" r="1.6"/><circle cx="1162.3" cy="950.4" r="1.6"/><circle cx="1152.4" cy="959.4" r="1.6"/><circle cx="1145.4" cy="969.4" r="1.6"/><circle cx="1133.4" cy="976.4" r="1.6"/><circle cx="1114.4" cy="984.4" r="1.6"/><circle cx="1107.4" cy="988.3" r="1.6"/><circle cx="1094.3" cy="1003.4" r="1.6"/><circle cx="1089.5" cy="1008.5" r="1.6"/><circle cx="1075.3" cy="1014.4" r="1.6"/><circle cx="1056.5" cy="1024.5" r="1.6"/><circle cx="1044.4" cy="1027.4" r="1.6"/><circle cx="1037.3" cy="1031.5" r="1.6"/><circle cx="1017.9" cy="1047.0" r="1.6"/><circle cx="998.3" cy="1054.3" r="1.6"/><circle cx="979.4" cy="1060.3" r="1.6"/><circle cx="959.3" cy="1060.3" r="1.6"/><circle cx="940.4" cy="1060.3" r="1.6"/><circle cx="921.4" cy="1058.3" r="1.6"/><circle cx="902.3" cy="1056.3" r="1.6"/><circle cx="882.3" cy="1051.5" r="1.6"/></g>
<rect x="1519.5" y="671.5" width="260" height="157" rx="4" ry="4" shape-rendering="auto" fill="#fff" stroke="#cccccc" stroke-width="1.2"/>
<rect x="1527" y="680" width="43" height="16" fill="#FF8D40"/>
<text x="1586.5" y="696.2" textLength="49.5" lengthAdjust="spacingAndGlyphs" class="lg" filter="url(#ga)">sand</text>
<rect x="1527" y="710" width="43" height="16" fill="#CCFFFF"/>
<text x="1586.5" y="726.2" textLength="116.0" lengthAdjust="spacingAndGlyphs" class="lg" filter="url(#ga)">whitewater</text>
<rect x="1527" y="741" width="43" height="16" fill="#0B57FF"/>
<text x="1586.5" y="756.6" textLength="59.0" lengthAdjust="spacingAndGlyphs" class="lg" filter="url(#ga)">water</text>
<rect x="1527" y="778" width="44" height="3" fill="#000"/>
<text x="1586.5" y="786.9" textLength="95.5" lengthAdjust="spacingAndGlyphs" class="lg" filter="url(#ga)">shoreline</text>
<rect x="1527.5" y="801.5" width="42" height="15" fill="#9C3232" stroke="#861A1A" stroke-width="1"/>
<text x="1586.5" y="817.1" textLength="205.0" lengthAdjust="spacingAndGlyphs" class="lg" filter="url(#ga)">reference shoreline</text>
<path fill="#BC6698" d="M1730 53h637v19h-637zM1730 72h637v20h-637zM1730 92h637v19h-637zM1730 111h637v19h-637zM1730 130h637v19h-637zM1730 149h637v20h-637zM1730 169h637v19h-637zM1730 188h637v19h-637zM1730 207h637v19h-637zM1730 226h637v20h-637zM1749 246h618v19h-618zM1749 265h618v19h-618zM1981 284h386v20h-386zM1981 304h386v19h-386zM2058 323h19v19h-19zM2213 323h154v19h-154zM2058 342h19v19h-19zM2213 342h154v19h-154zM2039 477h19v19h-19zM1730 1209h154v19h-154zM1730 1228h193v20h-193zM1730 1248h386v19h-386z"/>
<path fill="#7222A0" d="M1730 246h19v19h-19zM1730 265h19v19h-19zM1730 284h77v20h-77zM1884 284h20v20h-20zM1730 304h77v19h-77zM1884 304h20v19h-20zM1884 323h20v19h-20zM1981 323h58v19h-58zM1807 342h20v19h-20zM1865 342h39v19h-39zM1981 342h58v19h-58zM1807 361h20v20h-20zM1846 361h38v20h-38zM1807 381h20v19h-20zM1962 381h19v19h-19zM1807 400h20v19h-20zM1942 400h20v19h-20zM2020 400h19v19h-19zM1788 419h19v19h-19zM1942 419h20v19h-20zM1788 438h19v20h-19zM1923 438h19v20h-19zM2000 438h20v20h-20zM1788 458h58v19h-58zM1923 458h19v19h-19zM1788 477h39v19h-39zM1923 477h19v19h-19zM1788 496h39v19h-39zM1904 496h96v19h-96zM1788 515h39v20h-39zM1788 535h39v19h-39zM1942 554h58v19h-58zM1942 573h58v20h-58zM1942 593h58v19h-58zM1865 612h77v19h-77zM1923 631h77v19h-77zM1749 650h39v20h-39zM1923 650h77v20h-77zM1769 670h77v19h-77zM1962 670h38v19h-38zM1769 689h19v19h-19zM1788 708h77v19h-77zM1981 708h19v19h-19zM1788 727h19v20h-19zM1865 727h77v20h-77zM1981 727h19v20h-19zM1865 747h77v19h-77zM1865 766h77v19h-77zM2000 766h77v19h-77zM1962 785h38v20h-38zM2039 785h38v20h-38zM1807 805h39v19h-39zM1962 805h19v19h-19zM2000 805h20v19h-20zM2039 805h38v19h-38zM1827 824h19v19h-19zM1807 843h20v19h-20zM1865 843h116v19h-116zM1807 862h20v20h-20zM1865 862h58v20h-58zM1962 862h19v20h-19zM2000 862h20v20h-20zM1788 882h96v19h-96zM1788 901h96v19h-96zM1962 901h38v19h-38zM1788 920h193v19h-193zM1788 939h58v20h-58zM1865 939h58v20h-58zM1865 959h19v19h-19zM1942 959h20v19h-20zM1807 978h97v19h-97zM1807 997h20v19h-20zM1865 997h39v19h-39zM1807 1016h20v20h-20zM1827 1036h19v19h-19z"/>
<path fill="#6A18A0" d="M1807 284h20v20h-20zM1807 304h20v19h-20zM1807 323h20v19h-20zM1846 323h38v19h-38zM1827 342h38v19h-38zM1827 361h19v20h-19zM1884 361h78v20h-78zM1865 381h39v19h-39zM1827 400h115v19h-115zM1807 419h58v19h-58zM1923 419h19v19h-19zM1807 438h58v20h-58zM1846 458h19v19h-19zM2020 458h19v19h-19zM1827 477h38v19h-38zM1827 496h38v19h-38zM1827 515h57v20h-57zM1904 515h96v20h-96zM1827 535h38v19h-38zM1884 535h116v19h-116zM1788 554h58v19h-58zM1904 554h38v19h-38zM1923 573h19v20h-19zM2000 573h20v20h-20zM1865 593h77v19h-77zM2000 593h20v19h-20zM1942 612h58v19h-58zM1865 631h58v19h-58zM2000 631h39v19h-39zM1865 650h58v20h-58zM1730 670h19v19h-19zM1846 670h116v19h-116zM1865 689h58v19h-58zM1962 689h38v19h-38zM1769 708h19v19h-19zM1865 708h77v19h-77zM1962 708h19v19h-19zM1769 727h19v20h-19zM1807 727h20v20h-20zM1846 727h19v20h-19zM1942 727h39v20h-39zM2000 727h20v20h-20zM1769 747h58v19h-58zM1846 747h19v19h-19zM1942 747h97v19h-97zM1769 766h38v19h-38zM1846 766h19v19h-19zM1942 766h58v19h-58zM1788 785h19v20h-19zM1865 785h97v20h-97zM2000 785h39v20h-39zM1788 805h19v19h-19zM1846 805h19v19h-19zM1923 805h39v19h-39zM2020 805h19v19h-19zM1846 824h193v19h-193zM1846 843h19v19h-19zM1981 843h58v19h-58zM1827 862h38v20h-38zM1923 862h39v20h-39zM1981 862h19v20h-19zM1884 882h116v19h-116zM1884 901h78v19h-78zM1923 939h39v20h-39zM1884 959h58v19h-58zM1730 978h19v19h-19zM1846 997h19v19h-19zM1827 1016h19v20h-19z"/>
<path fill="#600E9E" d="M1827 284h57v20h-57zM1827 304h57v19h-57zM1827 323h19v19h-19zM1827 381h38v19h-38zM1904 381h58v19h-58zM1865 419h58v19h-58zM2020 419h19v19h-19zM1865 438h58v20h-58zM2020 438h19v20h-19zM1865 458h58v19h-58zM1865 477h58v19h-58zM1865 496h39v19h-39zM1884 515h20v20h-20zM1865 535h19v19h-19zM1846 554h58v19h-58zM1788 573h135v20h-135zM2020 573h19v20h-19zM1788 593h77v19h-77zM2020 593h19v19h-19zM1788 612h77v19h-77zM2000 612h39v19h-39zM1788 631h77v19h-77zM1788 650h77v20h-77zM1749 670h20v19h-20zM1730 689h39v19h-39zM1923 689h39v19h-39zM1749 708h20v19h-20zM1942 708h20v19h-20zM1749 727h20v20h-20zM1827 727h19v20h-19zM2020 727h19v20h-19zM1749 747h20v19h-20zM1827 747h19v19h-19zM1749 766h20v19h-20zM1807 766h39v19h-39zM1749 785h39v20h-39zM1807 785h58v20h-58zM1749 805h39v19h-39zM1865 805h58v19h-58zM1827 843h19v19h-19zM1730 997h19v19h-19zM1827 997h19v19h-19z"/>
<path fill="#8838A0" d="M1904 284h77v20h-77zM1904 304h77v19h-77zM1904 323h58v19h-58zM1788 342h19v19h-19zM1788 361h19v20h-19zM2020 361h19v20h-19zM1788 381h19v19h-19zM2058 381h19v19h-19zM2000 400h20v19h-20zM2058 400h19v19h-19zM1981 419h19v19h-19zM2058 419h19v19h-19zM1769 438h19v20h-19zM1962 438h38v20h-38zM2058 438h19v20h-19zM1730 458h39v19h-39zM1942 458h58v19h-58zM1769 477h19v19h-19zM2020 496h19v19h-19zM2020 554h19v19h-19zM1769 573h19v20h-19zM1730 593h19v19h-19zM1730 612h39v19h-39zM2039 612h19v19h-19zM1730 631h19v19h-19zM2000 670h20v19h-20zM2039 747h19v19h-19zM1730 843h58v19h-58zM1730 862h19v20h-19zM1769 862h19v20h-19zM2020 862h19v20h-19zM1769 882h19v19h-19zM2000 882h20v19h-20zM1749 901h20v19h-20zM2000 901h20v19h-20zM1730 920h19v19h-19zM1962 939h19v20h-19zM1962 959h19v19h-19zM1904 997h19v19h-19zM1730 1016h19v20h-19zM1769 1016h19v20h-19zM1846 1016h19v20h-19zM1769 1036h19v19h-19z"/>
<path fill="#C26A9E" d="M1730 323h39v19h-39zM1769 342h19v19h-19zM1769 361h19v20h-19zM1769 381h19v19h-19zM1749 400h20v19h-20zM2077 400h20v19h-20zM2077 419h20v19h-20zM1730 438h19v20h-19zM2077 438h20v20h-20zM2077 458h20v19h-20zM1749 496h20v19h-20zM2039 496h19v19h-19zM1749 515h20v20h-20zM2039 515h19v20h-19zM1749 535h20v19h-20zM2058 593h19v19h-19zM2058 631h19v19h-19zM2058 650h19v20h-19zM2039 670h19v19h-19zM2058 727h19v20h-19zM2058 747h19v19h-19zM2058 843h19v19h-19zM2039 862h19v20h-19zM2000 939h39v20h-39zM2000 959h20v19h-20zM1962 978h19v19h-19zM1923 997h19v19h-19zM1884 1016h39v20h-39zM1730 1036h19v19h-19zM1865 1036h19v19h-19z"/>
<path fill="#9848A0" d="M1769 323h19v19h-19zM2039 323h19v19h-19zM2039 342h19v19h-19zM2039 361h19v20h-19zM1769 419h19v19h-19zM1749 438h20v20h-20zM2058 458h19v19h-19zM1730 477h39v19h-39zM1769 496h19v19h-19zM1769 515h19v20h-19zM2020 515h19v20h-19zM1730 535h19v19h-19zM1769 535h19v19h-19zM2000 535h20v19h-20zM1730 554h19v19h-19zM1769 554h19v19h-19zM1730 573h39v20h-39zM1749 593h20v19h-20zM2039 593h19v19h-19zM2058 612h19v19h-19zM2039 631h19v19h-19zM2020 670h19v19h-19zM2020 689h19v19h-19zM2039 727h19v20h-19zM1730 747h19v19h-19zM1730 766h19v19h-19zM1730 785h19v20h-19zM1730 805h19v19h-19zM1730 824h19v19h-19zM2058 824h19v19h-19zM2039 843h19v19h-19zM1749 862h20v20h-20zM1730 882h39v19h-39zM2020 882h19v19h-19zM1730 901h19v19h-19zM2020 901h19v19h-19zM2020 920h19v19h-19zM1981 939h19v20h-19zM1923 978h19v19h-19zM1749 1016h20v20h-20zM1846 1036h19v19h-19z"/>
<path fill="#7C2CA0" d="M1788 323h19v19h-19zM1962 323h19v19h-19zM1904 342h77v19h-77zM1962 361h58v20h-58zM1981 381h77v19h-77zM1788 400h19v19h-19zM1962 400h38v19h-38zM2039 400h19v19h-19zM1962 419h19v19h-19zM2000 419h20v19h-20zM2039 419h19v19h-19zM1942 438h20v20h-20zM2039 438h19v20h-19zM1769 458h19v19h-19zM2000 458h20v19h-20zM2039 458h19v19h-19zM1942 477h97v19h-97zM2000 496h20v19h-20zM2000 515h20v20h-20zM2000 554h20v19h-20zM1769 593h19v19h-19zM1769 612h19v19h-19zM1749 631h39v19h-39zM1730 650h19v20h-19zM2000 650h39v20h-39zM1788 689h77v19h-77zM2000 689h20v19h-20zM1730 708h19v19h-19zM2000 708h39v19h-39zM1730 727h19v20h-19zM1981 805h19v19h-19zM1749 824h78v19h-78zM2039 824h19v19h-19zM1788 843h19v19h-19zM1788 862h19v20h-19zM1769 901h19v19h-19zM1749 920h39v19h-39zM1981 920h39v19h-39zM1730 939h58v20h-58zM1846 939h19v20h-19zM1730 959h135v19h-135zM1749 978h58v19h-58zM1904 978h19v19h-19zM1749 997h58v19h-58zM1788 1016h19v20h-19zM1788 1036h39v19h-39z"/>
<path fill="#C45A8C" d="M2077 323h20v19h-20zM2077 342h20v19h-20zM2077 381h20v19h-20zM2058 477h19v19h-19zM2039 535h19v19h-19zM2039 554h19v19h-19zM2039 689h19v19h-19zM2039 708h19v19h-19zM2077 766h20v19h-20zM2077 785h20v20h-20zM2077 805h20v19h-20zM2077 824h20v19h-20zM2039 882h19v19h-19zM2039 901h19v19h-19zM2039 920h19v19h-19zM1981 978h19v19h-19zM1942 997h20v19h-20zM1942 1016h20v20h-20zM1884 1036h20v19h-20zM1749 1055h97v19h-97z"/>
<path fill="#C83C68" d="M2097 323h19v19h-19zM1730 361h19v20h-19zM1730 381h19v19h-19zM1730 400h19v19h-19zM2097 400h19v19h-19zM2097 419h19v19h-19zM2097 438h19v20h-19zM2097 458h19v19h-19zM2077 477h20v19h-20zM2058 535h19v19h-19zM2058 554h19v19h-19zM2058 573h19v20h-19zM2077 593h20v19h-20zM2077 631h20v19h-20zM2077 650h20v20h-20zM2058 670h19v19h-19zM2058 689h19v19h-19zM2058 708h19v19h-19zM2077 747h20v19h-20zM2097 766h19v19h-19zM2097 785h19v20h-19zM2097 805h19v19h-19zM2077 843h20v19h-20zM2058 882h19v19h-19zM2058 901h19v19h-19zM2058 920h19v19h-19zM2058 939h19v20h-19zM2020 959h38v19h-38zM2000 978h20v19h-20zM1962 997h19v19h-19zM1962 1016h19v20h-19zM1846 1055h38v19h-38z"/>
<path fill="#C22050" d="M2116 323h19v19h-19zM2116 342h19v19h-19zM2097 361h19v20h-19zM2097 381h19v19h-19zM2135 400h20v19h-20zM2135 419h20v19h-20zM2135 438h20v20h-20zM2135 458h20v19h-20zM2135 477h20v19h-20zM2077 496h20v19h-20zM2077 515h20v20h-20zM2077 535h20v19h-20zM2097 554h19v19h-19zM2097 573h19v20h-19zM2097 593h19v19h-19zM2097 612h19v19h-19zM2116 631h19v19h-19zM2116 650h19v20h-19zM2097 670h19v19h-19zM2097 689h19v19h-19zM2097 708h19v19h-19zM2097 727h19v20h-19zM2116 747h19v19h-19zM2135 766h20v19h-20zM2135 785h20v20h-20zM2135 805h20v19h-20zM2116 824h19v19h-19zM2116 843h19v19h-19zM2097 862h19v20h-19zM2097 882h19v19h-19zM2097 901h19v19h-19zM2097 920h19v19h-19zM2097 939h19v20h-19zM2077 959h20v19h-20zM2039 978h19v19h-19zM2000 997h20v19h-20zM2000 1016h20v20h-20zM1962 1036h19v19h-19zM1923 1055h19v19h-19zM1904 1074h19v20h-19zM1730 1094h19v19h-19zM1846 1094h38v19h-38zM1730 1113h39v19h-39z"/>
<path fill="#C01644" d="M2135 323h78v19h-78zM2116 361h251v20h-251zM2116 381h251v19h-251zM2155 400h212v19h-212zM2155 419h212v19h-212zM2155 438h58v20h-58zM2290 438h77v20h-77zM2155 458h58v19h-58zM2290 458h77v19h-77zM2155 477h212v19h-212zM2097 496h270v19h-270zM2097 515h270v20h-270zM2097 535h270v19h-270zM2116 554h251v19h-251zM2116 573h251v20h-251zM2116 593h251v19h-251zM2116 612h251v19h-251zM2135 631h232v19h-232zM2135 650h232v20h-232zM2116 670h251v19h-251zM2116 689h251v19h-251zM2116 708h251v19h-251zM2116 727h251v20h-251zM2135 747h232v19h-232zM2155 766h212v19h-212zM2155 785h212v20h-212zM2155 805h212v19h-212zM2135 824h232v19h-232zM2135 843h232v19h-232zM2116 862h251v20h-251zM2116 882h251v19h-251zM2116 901h251v19h-251zM2116 920h251v19h-251zM2116 939h251v20h-251zM2097 959h270v19h-270zM2058 978h309v19h-309zM2058 997h309v19h-309zM2058 1016h309v20h-309zM2020 1036h347v19h-347zM1942 1055h39v19h-39zM2058 1055h309v19h-309zM1923 1074h444v20h-444zM1884 1094h483v19h-483zM1769 1113h96v19h-96zM1942 1113h425v19h-425zM1730 1132h135v19h-135zM1923 1132h444v19h-444zM1904 1151h463v20h-463zM1923 1171h444v19h-444zM1730 1190h618v19h-618zM1884 1209h464v19h-464zM1923 1228h405v20h-405zM2116 1248h193v19h-193z"/>
<path fill="#C84A78" d="M1730 342h39v19h-39zM1749 361h20v20h-20zM2077 361h20v20h-20zM1749 381h20v19h-20zM1730 419h19v19h-19zM2077 612h20v19h-20zM2058 862h19v20h-19zM2039 939h19v20h-19zM1923 1016h19v20h-19zM1904 1036h19v19h-19zM1730 1055h19v19h-19z"/>
<path fill="#C42C58" d="M2097 342h19v19h-19zM2116 400h19v19h-19zM2116 419h19v19h-19zM2116 438h19v20h-19zM2116 458h19v19h-19zM2097 477h38v19h-38zM2058 496h19v19h-19zM2058 515h19v20h-19zM2077 554h20v19h-20zM2077 573h20v20h-20zM2097 631h19v19h-19zM2097 650h19v20h-19zM2077 670h20v19h-20zM2077 689h20v19h-20zM2077 708h20v19h-20zM2077 727h20v20h-20zM2097 747h19v19h-19zM2116 766h19v19h-19zM2116 785h19v20h-19zM2116 805h19v19h-19zM2097 824h19v19h-19zM2097 843h19v19h-19zM2077 862h20v20h-20zM2077 882h20v19h-20zM2077 901h20v19h-20zM2077 920h20v19h-20zM2077 939h20v20h-20zM2058 959h19v19h-19zM2020 978h19v19h-19zM1981 997h19v19h-19zM1981 1016h19v20h-19zM1923 1036h39v19h-39zM1884 1055h39v19h-39zM1730 1074h174v20h-174zM1749 1094h97v19h-97z"/>
<path fill="#BE0E3E" d="M2135 342h78v19h-78zM2213 438h77v20h-77zM2213 458h77v19h-77zM2020 997h38v19h-38zM2020 1016h38v20h-38zM1981 1036h39v19h-39zM1981 1055h77v19h-77zM1865 1113h77v19h-77zM1865 1132h58v19h-58zM1730 1151h174v20h-174zM1730 1171h193v19h-193z"/>
<path fill="#AC58A0" d="M2058 361h19v20h-19zM1769 400h19v19h-19zM1749 419h20v19h-20zM1730 496h19v19h-19zM1730 515h19v20h-19zM2020 535h19v19h-19zM1749 554h20v19h-20zM2039 573h19v20h-19zM2039 650h19v20h-19zM1981 959h19v19h-19zM1942 978h20v19h-20zM1865 1016h19v20h-19zM1749 1036h20v19h-20z"/>
<path fill="#FF3434" d="M2348 1190h19v19h-19zM2348 1209h19v19h-19zM2328 1228h39v20h-39zM2309 1248h58v19h-58z"/>
<g fill="#000" shape-rendering="auto"><circle cx="2068.2" cy="352.2" r="1.6"/><circle cx="2077.3" cy="371.1" r="1.6"/><circle cx="2083.4" cy="391.2" r="1.6"/><circle cx="2084.3" cy="410.1" r="1.6"/><circle cx="2085.5" cy="429.0" r="1.6"/><circle cx="2083.4" cy="448.0" r="1.6"/><circle cx="2079.4" cy="468.1" r="1.6"/><circle cx="2067.5" cy="480.3" r="1.6"/><circle cx="2057.2" cy="487.3" r="1.6"/><circle cx="2048.4" cy="499.2" r="1.6"/><circle cx="2045.6" cy="506.2" r="1.6"/><circle cx="2040.4" cy="526.1" r="1.6"/><circle cx="2037.4" cy="545.3" r="1.6"/><circle cx="2045.6" cy="564.0" r="1.6"/><circle cx="2048.4" cy="572.2" r="1.6"/><circle cx="2055.4" cy="583.2" r="1.6"/><circle cx="2065.4" cy="603.5" r="1.6"/><circle cx="2067.3" cy="605.1" r="1.6"/><circle cx="2077.3" cy="622.2" r="1.6"/><circle cx="2070.3" cy="641.3" r="1.6"/><circle cx="2067.5" cy="646.2" r="1.6"/><circle cx="2058.4" cy="661.4" r="1.6"/><circle cx="2048.4" cy="673.3" r="1.6"/><circle cx="2044.4" cy="680.5" r="1.6"/><circle cx="2038.3" cy="699.4" r="1.6"/><circle cx="2047.4" cy="718.1" r="1.6"/><circle cx="2048.4" cy="721.2" r="1.6"/><circle cx="2061.4" cy="738.2" r="1.6"/><circle cx="2067.5" cy="746.2" r="1.6"/><circle cx="2073.6" cy="757.2" r="1.6"/><circle cx="2081.3" cy="776.1" r="1.6"/><circle cx="2081.3" cy="796.2" r="1.6"/><circle cx="2082.5" cy="815.1" r="1.6"/><circle cx="2076.4" cy="834.3" r="1.6"/><circle cx="2068.2" cy="853.4" r="1.6"/><circle cx="2048.8" cy="873.5" r="1.6"/><circle cx="2040.4" cy="892.2" r="1.6"/><circle cx="2040.4" cy="911.2" r="1.6"/><circle cx="2041.3" cy="931.4" r="1.6"/><circle cx="2029.5" cy="945.6" r="1.6"/><circle cx="2019.3" cy="950.4" r="1.6"/><circle cx="2009.4" cy="959.4" r="1.6"/><circle cx="2002.4" cy="969.4" r="1.6"/><circle cx="1990.4" cy="976.4" r="1.6"/><circle cx="1971.4" cy="984.4" r="1.6"/><circle cx="1964.4" cy="988.3" r="1.6"/><circle cx="1951.3" cy="1003.4" r="1.6"/><circle cx="1946.5" cy="1008.5" r="1.6"/><circle cx="1932.3" cy="1014.4" r="1.6"/><circle cx="1913.5" cy="1024.5" r="1.6"/><circle cx="1901.4" cy="1027.4" r="1.6"/><circle cx="1894.3" cy="1031.5" r="1.6"/><circle cx="1874.9" cy="1047.0" r="1.6"/><circle cx="1855.3" cy="1054.3" r="1.6"/><circle cx="1836.4" cy="1060.3" r="1.6"/><circle cx="1816.3" cy="1060.3" r="1.6"/><circle cx="1797.4" cy="1060.3" r="1.6"/><circle cx="1778.4" cy="1058.3" r="1.6"/><circle cx="1759.3" cy="1056.3" r="1.6"/><circle cx="1739.3" cy="1051.5" r="1.6"/></g>
<text x="333.0" y="41.8" text-anchor="middle" textLength="150.5" lengthAdjust="spacingAndGlyphs" class="tt" filter="url(#ga)">sar1703</text>
<text x="1191.3" y="41.8" text-anchor="middle" textLength="393.0" lengthAdjust="spacingAndGlyphs" class="tt" filter="url(#ga)">2005-03-14-09-49-39</text>
<text x="2048.1" y="41.8" text-anchor="middle" textLength="42.0" lengthAdjust="spacingAndGlyphs" class="tt" filter="url(#ga)">L7</text>
</svg>
</body></html>
